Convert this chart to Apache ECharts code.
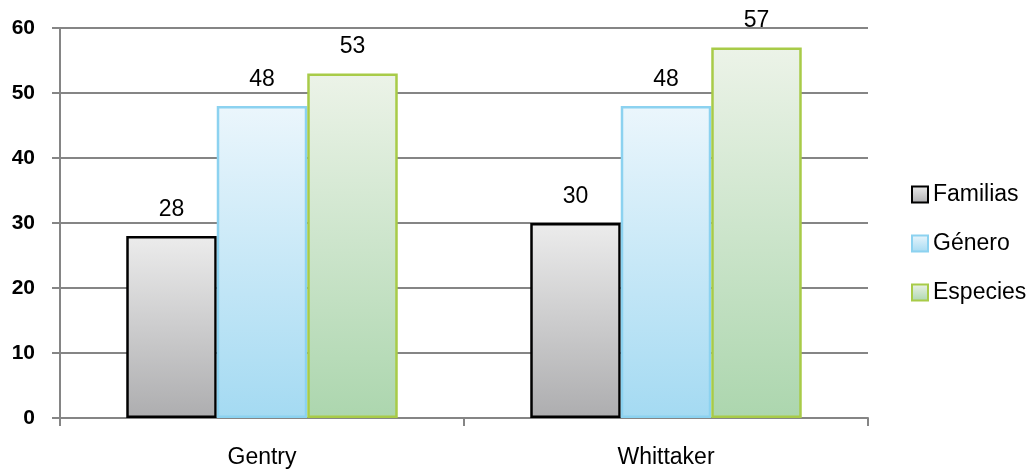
<!DOCTYPE html>
<html>
<head>
<meta charset="utf-8">
<script src="https://cdn.jsdelivr.net/npm/echarts@6/dist/echarts.min.js"></script>
<style>
  html, body { margin: 0; padding: 0; background: #ffffff; }
  #chart { width: 1035px; height: 472px; }
</style>
</head>
<body>
<div id="chart"></div>
<script>
// Taxonomic counts per source
const categories = ['Gentry', 'Whittaker'];
const familias = [28, 30];
const genero = [48, 48];
const especies = [53, 57];
const yTicks = [0, 10, 20, 30, 40, 50, 60];

const FONT = '"Liberation Sans", Arial, sans-serif';
const gridColor = '#858585';

function grad(top, bottom) {
  return new echarts.graphic.LinearGradient(0, 0, 0, 1, [
    { offset: 0, color: top },
    { offset: 1, color: bottom }
  ]);
}

function barSeries(name, data, top, bottom, border, bw) {
  return {
    name: name,
    type: 'bar',
    data: data,
    barWidth: '22.4%',
    barGap: '0%',
    itemStyle: {
      color: grad(top, bottom),
      borderColor: border,
      borderWidth: bw
    },
    label: {
      show: true,
      position: 'top',
      distance: 15,
      color: '#000',
      fontFamily: FONT,
      fontSize: 23
    }
  };
}

const chart = echarts.init(document.getElementById('chart'), null, { renderer: 'canvas' });
chart.setOption({
  animation: false,
  backgroundColor: '#ffffff',
  grid: { left: 60, right: 167, top: 28, bottom: 54 },
  legend: {
    orient: 'vertical',
    left: 911,
    top: 183,
    padding: 0,
    itemWidth: 16,
    itemHeight: 16,
    itemGap: 26,
    icon: 'rect',
    textStyle: { color: '#000', fontFamily: FONT, fontSize: 23 },
    data: ['Familias', 'Género', 'Especies']
  },
  xAxis: {
    type: 'category',
    data: categories,
    axisLine: { lineStyle: { color: gridColor, width: 2 } },
    axisTick: { show: true, length: 8, alignWithLabel: false, lineStyle: { color: gridColor, width: 2 } },
    axisLabel: { color: '#000', fontFamily: FONT, fontSize: 23, margin: 28 }
  },
  yAxis: {
    type: 'value',
    min: yTicks[0],
    max: yTicks[yTicks.length - 1],
    interval: yTicks[1] - yTicks[0],
    axisLine: { show: true, lineStyle: { color: gridColor, width: 2 } },
    axisTick: { show: true, length: 8, lineStyle: { color: gridColor, width: 2 } },
    splitLine: { lineStyle: { color: gridColor, width: 2 } },
    axisLabel: { color: '#000', fontFamily: FONT, fontSize: 21, fontWeight: 'bold', margin: 25 }
  },
  series: [
    barSeries('Familias', familias, '#ececec', '#adadaf', '#000000', 2.5),
    barSeries('Género', genero, '#ebf6fc', '#a4daf2', '#8cd2f0', 2.5),
    barSeries('Especies', especies, '#ecf3e8', '#acd6ae', '#a8cb48', 2.5)
  ]
});
</script>
</body>
</html>
